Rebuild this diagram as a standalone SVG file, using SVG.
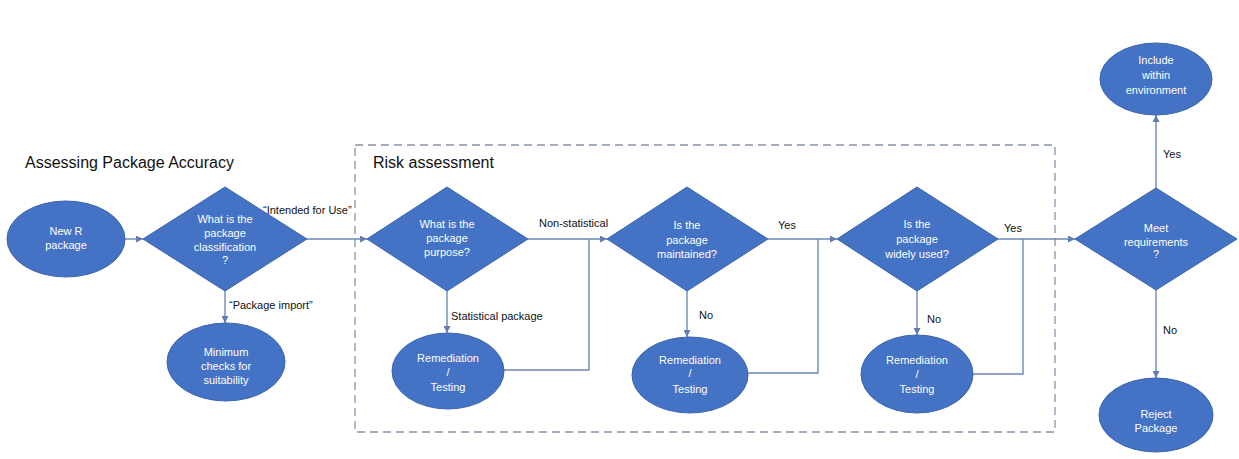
<svg xmlns="http://www.w3.org/2000/svg" width="1239" height="459" viewBox="0 0 1239 459">
<defs>
<style>
.node{fill:#4472C4;stroke:#3A63AD;stroke-width:1}
.nt{font-family:"Liberation Sans",Arial,sans-serif;font-size:11px;fill:#ffffff;text-anchor:middle}
.lbl{font-family:"Liberation Sans",Arial,sans-serif;font-size:11px;fill:#111111}
.title{font-family:"Liberation Sans",Arial,sans-serif;font-size:16px;fill:#111111}
.conn{fill:none;stroke:#6E87B5;stroke-width:1.4}
.box{fill:none;stroke:#8593A8;stroke-width:1.3;stroke-dasharray:8 5}
</style>
<marker id="arr" viewBox="0 0 10 10" refX="10" refY="5" markerWidth="7" markerHeight="7" markerUnits="userSpaceOnUse" orient="auto">
<path d="M0,0 L10,5 L0,10 z" fill="#5E7DB3"/>
</marker>
</defs>
<rect width="1239" height="459" fill="#ffffff"/>

<text class="title" x="25" y="168">Assessing Package Accuracy</text>
<rect id="risk-box" class="box" x="355" y="145" width="700" height="287"/>
<text class="title" x="373" y="168">Risk assessment</text>

<g id="connectors">
<line class="conn" x1="125" y1="239" x2="143" y2="239" marker-end="url(#arr)"/>
<line class="conn" x1="307" y1="239" x2="367" y2="239" marker-end="url(#arr)"/>
<line class="conn" x1="225" y1="291" x2="225" y2="323" marker-end="url(#arr)"/>
<line class="conn" x1="528" y1="239" x2="607" y2="239" marker-end="url(#arr)"/>
<line class="conn" x1="447" y1="291" x2="447" y2="333" marker-end="url(#arr)"/>
<polyline class="conn" points="504,370 589,370 589,239"/>
<line class="conn" x1="768" y1="239" x2="837" y2="239" marker-end="url(#arr)"/>
<line class="conn" x1="687" y1="291" x2="687" y2="337" marker-end="url(#arr)"/>
<polyline class="conn" points="748,373 818,373 818,239"/>
<line class="conn" x1="998" y1="239" x2="1075" y2="239" marker-end="url(#arr)"/>
<line class="conn" x1="917" y1="291" x2="917" y2="335" marker-end="url(#arr)"/>
<polyline class="conn" points="973,374 1023,374 1023,239"/>
<line class="conn" x1="1156" y1="188" x2="1156" y2="115" marker-end="url(#arr)"/>
<line class="conn" x1="1156" y1="290" x2="1156" y2="378" marker-end="url(#arr)"/>
<text class="lbl" x="263" y="214">“Intended for Use”</text>
<text class="lbl" x="229" y="309">“Package import”</text>
<text class="lbl" x="539" y="227">Non-statistical</text>
<text class="lbl" x="451" y="320">Statistical package</text>
<text class="lbl" x="778" y="229">Yes</text>
<text class="lbl" x="699" y="319">No</text>
<text class="lbl" x="1004" y="232">Yes</text>
<text class="lbl" x="927" y="323">No</text>
<text class="lbl" x="1163" y="158">Yes</text>
<text class="lbl" x="1163" y="334">No</text>
</g>

<g id="new-r-package">
<ellipse class="node" cx="66" cy="239" rx="59" ry="38"/>
<text class="nt" x="66" y="235">New R</text>
<text class="nt" x="66" y="249">package</text>
</g>

<g id="classification">
<polygon class="node" points="143,239 225,187 307,239 225,291"/>
<text class="nt" x="225" y="223">What is the</text>
<text class="nt" x="225" y="237">package</text>
<text class="nt" x="225" y="251">classification</text>
<text class="nt" x="225" y="264">?</text>
</g>

<g id="minimum-checks">
<ellipse class="node" cx="226" cy="362" rx="59" ry="39"/>
<text class="nt" x="226" y="356">Minimum</text>
<text class="nt" x="226" y="370">checks for</text>
<text class="nt" x="226" y="384">suitability</text>
</g>

<g id="purpose">
<polygon class="node" points="367,239 447,187 528,239 447,291"/>
<text class="nt" x="447" y="228">What is the</text>
<text class="nt" x="447" y="242">package</text>
<text class="nt" x="447" y="256">purpose?</text>
</g>

<g id="remediation-1">
<ellipse class="node" cx="448" cy="371" rx="56" ry="38"/>
<text class="nt" x="448" y="362">Remediation</text>
<text class="nt" x="448" y="376">/</text>
<text class="nt" x="448" y="391">Testing</text>
</g>

<g id="maintained">
<polygon class="node" points="607,239 687,187 768,239 687,291"/>
<text class="nt" x="687" y="229">Is the</text>
<text class="nt" x="687" y="244">package</text>
<text class="nt" x="687" y="258">maintained?</text>
</g>

<g id="remediation-2">
<ellipse class="node" cx="690" cy="375" rx="58" ry="38"/>
<text class="nt" x="690" y="364">Remediation</text>
<text class="nt" x="690" y="377">/</text>
<text class="nt" x="690" y="393">Testing</text>
</g>

<g id="widely-used">
<polygon class="node" points="837,239 917,187 998,239 917,291"/>
<text class="nt" x="917" y="228">Is the</text>
<text class="nt" x="917" y="243">package</text>
<text class="nt" x="917" y="258">widely used?</text>
</g>

<g id="remediation-3">
<ellipse class="node" cx="917" cy="374" rx="56" ry="39"/>
<text class="nt" x="917" y="364">Remediation</text>
<text class="nt" x="917" y="378">/</text>
<text class="nt" x="917" y="393">Testing</text>
</g>

<g id="meet-requirements">
<polygon class="node" points="1075,239 1156,188 1237,239 1156,290"/>
<text class="nt" x="1156" y="232">Meet</text>
<text class="nt" x="1156" y="246">requirements</text>
<text class="nt" x="1156" y="258">?</text>
</g>

<g id="include">
<ellipse class="node" cx="1156" cy="79" rx="56" ry="36"/>
<text class="nt" x="1156" y="64">Include</text>
<text class="nt" x="1156" y="79">within</text>
<text class="nt" x="1156" y="94">environment</text>
</g>

<g id="reject">
<ellipse class="node" cx="1156" cy="415" rx="57" ry="37"/>
<text class="nt" x="1156" y="418">Reject</text>
<text class="nt" x="1156" y="432">Package</text>
</g>
</svg>
